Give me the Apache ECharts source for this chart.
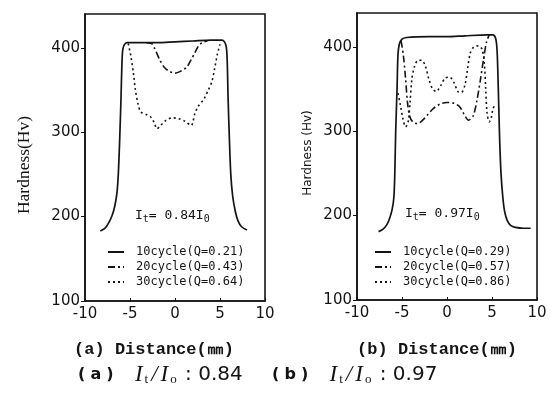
<!DOCTYPE html>
<html>
<head>
<meta charset="utf-8">
<script src="https://cdn.jsdelivr.net/npm/echarts@6/dist/echarts.min.js"></script>
<style>html,body{margin:0;padding:0;background:#fff;}#c{width:554px;height:398px;}</style>
</head>
<body>
<div id="c"></div>
<script>
// ---- data (x: distance mm, y: hardness Hv) ----
const yTicks = [100, 200, 300, 400];
const namesA = ['10cycle(Q=0.21)', '20cycle(Q=0.43)', '30cycle(Q=0.64)'];
const namesB = ['10cycle(Q=0.29)', '20cycle(Q=0.57)', '30cycle(Q=0.86)'];

const a10 = [[-8.3,183],[-7.8,186],[-7.4,192],[-7.0,201],[-6.7,212],[-6.45,228],[-6.3,250],[-6.15,290],[-6.0,340],[-5.9,380],[-5.8,398],[-5.6,404],[-5.3,406],[-4,406],[-2,406],[0,407],[2,408],[4,409],[5.2,409],[5.5,407],[5.7,401],[5.8,385],[5.9,340],[6.05,290],[6.2,250],[6.4,225],[6.7,206],[7.0,195],[7.4,188],[8.0,184]];
const a20 = [[-3.2,406],[-2.6,405],[-2.3,400],[-1.7,386],[-1.2,377],[-0.6,372],[0,370],[0.6,372],[1.3,377],[1.8,386],[2.2,394],[2.6,402],[3.0,406],[3.6,408]];
const a30 = [[-5.2,405],[-4.9,390],[-4.6,368],[-4.4,350],[-4.1,333],[-3.8,324],[-3.2,321],[-2.7,318],[-2.3,311],[-2.0,304],[-1.6,308],[-1.0,314],[-0.3,317],[0.4,316],[1.1,313],[1.8,308],[2.2,322],[2.6,331],[3.2,339],[3.7,350],[4.1,360],[4.4,375],[4.7,392],[5.0,404]];

const b10 = [[-7.6,181],[-7.1,184],[-6.7,189],[-6.4,196],[-6.1,207],[-5.9,222],[-5.8,250],[-5.7,300],[-5.55,350],[-5.45,390],[-5.3,403],[-5.0,409],[-4.5,411],[-2,412],[0,412],[2,413],[4.5,414],[5.1,414],[5.4,410],[5.55,398],[5.65,370],[5.75,330],[5.85,290],[6.0,250],[6.2,222],[6.4,205],[6.7,194],[7.1,188],[7.6,186],[8.5,185],[9.3,185]];
const b20 = [[-5.1,407],[-4.85,390],[-4.6,362],[-4.4,335],[-4.15,318],[-3.8,311],[-3.3,309],[-2.7,313],[-2.1,320],[-1.5,327],[-0.8,332],[0,334],[0.8,333],[1.4,329],[1.9,320],[2.4,313],[2.9,318],[3.3,335],[3.7,360],[4.1,388],[4.4,406],[4.7,414]];
const b30 = [[-5.45,345],[-5.2,332],[-4.9,315],[-4.6,305],[-4.3,312],[-4.1,335],[-3.9,362],[-3.6,377],[-3.2,384],[-2.8,384],[-2.4,377],[-2.0,361],[-1.6,350],[-1.2,347],[-0.7,354],[-0.2,363],[0.3,364],[0.8,357],[1.2,347],[1.6,346],[2.0,355],[2.3,375],[2.6,393],[3.0,400],[3.5,401],[3.9,397],[4.15,380],[4.3,350],[4.45,322],[4.7,311],[4.9,315],[5.1,326],[5.35,332]];

// ---- chart ----
const INK = '#141414';
const styles = [
  {type: 'solid', width: 1.7},
  {type: [7, 3, 2, 3], width: 1.6},
  {type: [2, 3], width: 1.6}
];
function mkSeries(name, data, k, idx) {
  return {
    name: name, type: 'line', data: data, xAxisIndex: idx, yAxisIndex: idx,
    symbol: 'none', showSymbol: false, smooth: 0.3, silent: true,
    lineStyle: Object.assign({color: INK}, styles[k]),
    itemStyle: {color: INK}
  };
}
function mkX(idx) {
  return {
    type: 'value', gridIndex: idx, min: -10, max: 10, interval: 5,
    axisLine: {show: true, onZero: false, lineStyle: {color: INK, width: 1.6}},
    axisTick: {show: true, inside: true, length: 3, lineStyle: {color: INK}},
    axisLabel: {color: INK, fontFamily: 'DejaVu Sans', fontSize: 15, margin: 6},
    splitLine: {show: false}
  };
}
function mkY(idx) {
  return {
    type: 'value', gridIndex: idx, min: 100, max: 440, interval: 100,
    axisLine: {show: true, onZero: false, lineStyle: {color: INK, width: 1.6}},
    axisTick: {show: true, length: 4, customValues: yTicks, lineStyle: {color: INK}},
    axisLabel: {color: INK, fontFamily: 'DejaVu Sans', fontSize: 15, margin: 5, customValues: yTicks},
    splitLine: {show: false}
  };
}
function mkLegend(names, left) {
  return {
    data: names, orient: 'vertical', left: left, top: 241,
    itemWidth: 16, itemHeight: 10, itemGap: 3, selectedMode: false,
    itemStyle: {opacity: 0},
    textStyle: {color: INK, fontFamily: 'DejaVu Sans Mono', fontSize: 12, padding: [0, 0, 0, 7]}
  };
}
const richCap = {
  p: {fontFamily: 'DejaVu Sans', fontWeight: 'bold', fontSize: 16, fill: INK},
  g: {fontFamily: 'DejaVu Sans', fontSize: 16, fill: INK},
  i: {fontFamily: 'Liberation Serif', fontStyle: 'italic', fontSize: 23, padding: [0, 2, 0, 1], fill: INK},
  s: {fontFamily: 'Liberation Serif', fontSize: 13, padding: [9, 2, 0, 0], fill: INK},
  n: {fontFamily: 'DejaVu Sans', fontSize: 20, fill: INK}
};
const richIt = {
  m: {fontFamily: 'DejaVu Sans Mono', fontSize: 13, fill: INK},
  s: {fontFamily: 'DejaVu Sans Mono', fontSize: 10, padding: [6, 0, 0, 0], fill: INK}
};
const chart = echarts.init(document.getElementById('c'), null, {renderer: 'canvas'});
chart.setOption({
  backgroundColor: '#fff',
  animation: false,
  grid: [
    {left: 85, top: 14, width: 180, height: 287, show: true, borderColor: INK, borderWidth: 1.6, backgroundColor: 'transparent'},
    {left: 357, top: 13, width: 180, height: 287, show: true, borderColor: INK, borderWidth: 1.6, backgroundColor: 'transparent'}
  ],
  xAxis: [mkX(0), mkX(1)],
  yAxis: [mkY(0), mkY(1)],
  legend: [mkLegend(namesA, 102), mkLegend(namesB, 369)],
  series: [
    mkSeries(namesA[0], a10, 0, 0), mkSeries(namesA[1], a20, 1, 0), mkSeries(namesA[2], a30, 2, 0),
    mkSeries(namesB[0], b10, 0, 1), mkSeries(namesB[1], b20, 1, 1), mkSeries(namesB[2], b30, 2, 1)
  ],
  graphic: [
    {type: 'text', x: 24, y: 165, rotation: Math.PI / 2, silent: true,
      style: {text: 'Hardness(Hv)', font: '17.5px "Liberation Serif"', fill: INK, align: 'center', verticalAlign: 'middle'}},
    {type: 'text', x: 308, y: 153, rotation: Math.PI / 2, silent: true,
      style: {text: 'Hardness (Hv)', font: '12px "DejaVu Sans"', fill: INK, align: 'center', verticalAlign: 'middle'}},
    {type: 'text', x: 154, y: 350, silent: true,
      style: {text: '(a) Distance(㎜)', font: 'bold 17px "Liberation Mono"', fill: INK, align: 'center', verticalAlign: 'middle'}},
    {type: 'text', x: 437, y: 350, silent: true,
      style: {text: '(b) Distance(㎜)', font: 'bold 17px "Liberation Mono"', fill: INK, align: 'center', verticalAlign: 'middle'}},
    {type: 'text', x: 78, y: 375, silent: true,
      style: {text: '{p|(}{g| }{p|a}{g| }{p|)}{g|    }{i|I}{s|t}{i|/}{i|I}{s|o}{n| : 0.84}', rich: richCap, fill: INK, align: 'left', verticalAlign: 'middle'}},
    {type: 'text', x: 272, y: 375, silent: true,
      style: {text: '{p|(}{g| }{p|b}{g| }{p|)}{g|    }{i|I}{s|t}{i|/}{i|I}{s|o}{n| : 0.97}', rich: richCap, fill: INK, align: 'left', verticalAlign: 'middle'}},
    {type: 'text', x: 135, y: 216, silent: true,
      style: {text: '{m|I}{s|t}{m|= 0.84I}{s|0}', rich: richIt, fill: INK, align: 'left', verticalAlign: 'middle'}},
    {type: 'text', x: 405, y: 214, silent: true,
      style: {text: '{m|I}{s|t}{m|= 0.97I}{s|0}', rich: richIt, fill: INK, align: 'left', verticalAlign: 'middle'}}
  ]
});
</script>
</body>
</html>
